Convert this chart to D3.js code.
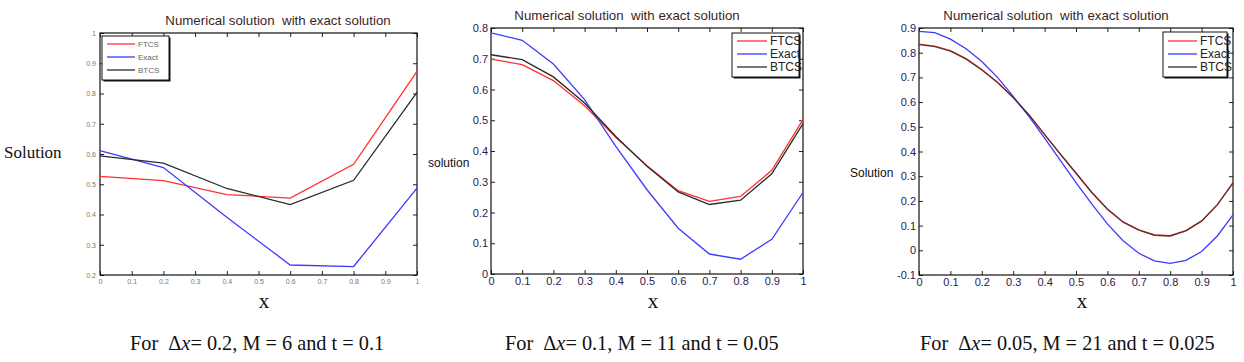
<!DOCTYPE html>
<html>
<head>
<meta charset="utf-8">
<script src="https://cdn.jsdelivr.net/npm/d3@7"></script>
<style>
  body { margin: 0; background: #fff; }
  svg { display: block; }
  text { white-space: pre; }
</style>
</head>
<body>
<div id="chart"></div>
<script>
// Panel 1: dx = 0.2
const x1 = [0, 0.2, 0.4, 0.6, 0.8, 1];
const ftcs1 = [0.526, 0.512, 0.466, 0.454, 0.566, 0.873];
const exact1 = [0.611, 0.555, 0.391, 0.233, 0.228, 0.487];
const btcs1 = [0.594, 0.570, 0.486, 0.433, 0.513, 0.804];

// Panel 2: dx = 0.1
const x2 = [0, 0.1, 0.2, 0.3, 0.4, 0.5, 0.6, 0.7, 0.8, 0.9, 1];
const ftcs2 = [0.699, 0.681, 0.629, 0.547, 0.445, 0.352, 0.271, 0.236, 0.252, 0.337, 0.502];
const exact2 = [0.784, 0.760, 0.683, 0.567, 0.415, 0.274, 0.149, 0.065, 0.048, 0.113, 0.265];
const btcs2 = [0.713, 0.697, 0.641, 0.556, 0.447, 0.350, 0.267, 0.226, 0.240, 0.326, 0.489];

// Panel 3: dx = 0.05
const x3 = [0, 0.05, 0.1, 0.15, 0.2, 0.25, 0.3, 0.35, 0.4, 0.45, 0.5,
            0.55, 0.6, 0.65, 0.7, 0.75, 0.8, 0.85, 0.9, 0.95, 1];
const ftcs3 = [0.835, 0.827, 0.808, 0.776, 0.732, 0.680, 0.619, 0.549, 0.468, 0.389, 0.312,
               0.234, 0.166, 0.114, 0.082, 0.062, 0.059, 0.080, 0.119, 0.185, 0.274];
const exact3 = [0.886, 0.881, 0.855, 0.816, 0.764, 0.700, 0.623, 0.542, 0.454, 0.364, 0.274,
                0.188, 0.107, 0.039, -0.012, -0.043, -0.053, -0.041, -0.005, 0.058, 0.143];
const btcs3 = [0.833, 0.825, 0.806, 0.774, 0.730, 0.679, 0.618, 0.548, 0.469, 0.390, 0.313,
               0.235, 0.167, 0.115, 0.083, 0.061, 0.058, 0.079, 0.118, 0.184, 0.272];

const xTicks = [0, 0.1, 0.2, 0.3, 0.4, 0.5, 0.6, 0.7, 0.8, 0.9, 1];
const yTicks1 = [0.2, 0.3, 0.4, 0.5, 0.6, 0.7, 0.8, 0.9, 1];
const yTicks2 = [0, 0.1, 0.2, 0.3, 0.4, 0.5, 0.6, 0.7, 0.8];
const yTicks3 = [-0.1, 0, 0.1, 0.2, 0.3, 0.4, 0.5, 0.6, 0.7, 0.8, 0.9];

const seriesNames = ['FTCS', 'Exact', 'BTCS'];
const titleText = 'Numerical solution  with exact solution';

const width = 1244, height = 362;
const sans = 'Liberation Sans, Arial, sans-serif';
const serif = 'Liberation Serif, Times New Roman, serif';

const svg = d3.select('#chart')
  .append('svg')
  .attr('width', width)
  .attr('height', height);

const fmt = (d) => String(+d.toFixed(2));

function drawPanel(p) {
  const x = d3.scaleLinear().domain([0, 1]).range([p.left, p.right]);
  const y = d3.scaleLinear().domain(p.yDomain).range([p.bottom, p.top]);
  const g = svg.append('g');

  // ticks inward on all four sides, like matlab
  const tl = 4;
  g.append('g')
    .attr('transform', `translate(0,${p.bottom})`)
    .call(d3.axisBottom(x).tickValues(xTicks).tickSize(-tl).tickPadding(p.tickPad).tickFormat(fmt))
    .call((a) => a.select('.domain').remove());
  g.append('g')
    .attr('transform', `translate(0,${p.top})`)
    .call(d3.axisTop(x).tickValues(xTicks).tickSize(-tl).tickFormat(''))
    .call((a) => a.select('.domain').remove());
  g.append('g')
    .attr('transform', `translate(${p.left},0)`)
    .call(d3.axisLeft(y).tickValues(p.yTicks).tickSize(-tl).tickPadding(p.tickPad).tickFormat(fmt))
    .call((a) => a.select('.domain').remove());
  g.append('g')
    .attr('transform', `translate(${p.right},0)`)
    .call(d3.axisRight(y).tickValues(p.yTicks).tickSize(-tl).tickFormat(''))
    .call((a) => a.select('.domain').remove());

  g.selectAll('.tick line').attr('stroke', '#222');
  g.selectAll('.tick text')
    .attr('font-family', sans)
    .attr('font-size', p.tickSize)
    .attr('fill', p.tickColor);

  g.append('rect')
    .attr('x', p.left).attr('y', p.top)
    .attr('width', p.right - p.left).attr('height', p.bottom - p.top)
    .attr('fill', 'none').attr('stroke', '#111').attr('stroke-width', 1.2);

  // lines
  const series = [
    { vals: p.ftcs, color: '#ff3030', op: 1 },
    { vals: p.exact, color: '#3b3bff', op: 1 },
    { vals: p.btcs, color: '#2a2a2a', op: p.btcsOpacity }
  ];
  const line = d3.line().x((d) => x(d[0])).y((d) => y(d[1]));
  series.forEach((s) => {
    g.append('path')
      .datum(p.xs.map((v, i) => [v, s.vals[i]]))
      .attr('d', line)
      .attr('fill', 'none')
      .attr('stroke', s.color)
      .attr('stroke-opacity', s.op)
      .attr('stroke-width', 1.3);
  });

  // title
  g.append('text')
    .attr('x', p.titleX).attr('y', p.top - 8)
    .attr('text-anchor', 'middle')
    .attr('font-family', sans).attr('font-size', 13.3)
    .attr('fill', '#3a1f24')
    .text(titleText);

  // legend
  const L = p.legend;
  g.append('rect')
    .attr('x', L.x + 1.5).attr('y', L.y + 1.5).attr('width', L.w).attr('height', L.h)
    .attr('fill', '#111');
  g.append('rect')
    .attr('x', L.x).attr('y', L.y).attr('width', L.w).attr('height', L.h)
    .attr('fill', '#fff').attr('stroke', '#111').attr('stroke-width', 1);
  seriesNames.forEach((name, i) => {
    const ly = L.y + L.row0 + i * L.step;
    g.append('line')
      .attr('x1', L.x + 5).attr('x2', L.x + 5 + L.lineW)
      .attr('y1', ly).attr('y2', ly)
      .attr('stroke', series[i].color).attr('stroke-width', 1.3);
    g.append('text')
      .attr('x', L.x + 8 + L.lineW).attr('y', ly)
      .attr('dy', '0.35em')
      .attr('font-family', sans).attr('font-size', L.font)
      .attr('fill', L.color)
      .text(name);
  });

  // y label
  g.append('text')
    .attr('x', p.ylab.x).attr('y', p.ylab.y)
    .attr('dy', '0.35em')
    .attr('font-family', p.ylab.font).attr('font-size', p.ylab.size)
    .attr('fill', '#111')
    .text(p.ylab.text);

  // x label
  g.append('text')
    .attr('x', p.xlabX).attr('y', 308)
    .attr('text-anchor', 'middle')
    .attr('font-family', serif).attr('font-size', 21)
    .attr('fill', '#111')
    .text('x');

  // caption
  const cap = g.append('text')
    .attr('x', p.capX).attr('y', 350)
    .attr('font-family', serif).attr('font-size', 20.3)
    .attr('fill', '#111');
  cap.append('tspan').text('For  Δ');
  cap.append('tspan').attr('font-style', 'italic').text('x');
  cap.append('tspan').text(p.caption);
}

drawPanel({
  left: 100, right: 417, top: 33, bottom: 275,
  yDomain: [0.2, 1], yTicks: yTicks1,
  xs: x1, ftcs: ftcs1, exact: exact1, btcs: btcs1, btcsOpacity: 1,
  tickSize: 7, tickPad: 4, tickColor: '#777',
  titleX: 278,
  legend: { x: 102, y: 36, w: 67, h: 44, row0: 8, step: 13, lineW: 28, font: 8, color: '#666' },
  ylab: { x: 4, y: 152, text: 'Solution', font: serif, size: 17 },
  xlabX: 264,
  capX: 130, caption: '= 0.2, M = 6 and t = 0.1'
});

drawPanel({
  left: 491, right: 803, top: 28, bottom: 274,
  yDomain: [0, 0.8], yTicks: yTicks2,
  xs: x2, ftcs: ftcs2, exact: exact2, btcs: btcs2, btcsOpacity: 1,
  tickSize: 11, tickPad: 3, tickColor: '#2a2050',
  titleX: 627,
  legend: { x: 732, y: 33, w: 67, h: 44, row0: 8, step: 13, lineW: 30, font: 12, color: '#222' },
  ylab: { x: 428, y: 163, text: 'solution', font: sans, size: 12 },
  xlabX: 653,
  capX: 505, caption: '= 0.1, M = 11 and t = 0.05'
});

drawPanel({
  left: 919, right: 1233, top: 28, bottom: 275,
  yDomain: [-0.1, 0.9], yTicks: yTicks3,
  xs: x3, ftcs: ftcs3, exact: exact3, btcs: btcs3, btcsOpacity: 0.75,
  tickSize: 11, tickPad: 3, tickColor: '#2a2050',
  titleX: 1056,
  legend: { x: 1163, y: 32, w: 64, h: 45, row0: 9, step: 13, lineW: 29, font: 12, color: '#222' },
  ylab: { x: 850, y: 173, text: 'Solution', font: sans, size: 12 },
  xlabX: 1082,
  capX: 920, caption: '= 0.05, M = 21 and t = 0.025'
});
</script>
</body>
</html>
